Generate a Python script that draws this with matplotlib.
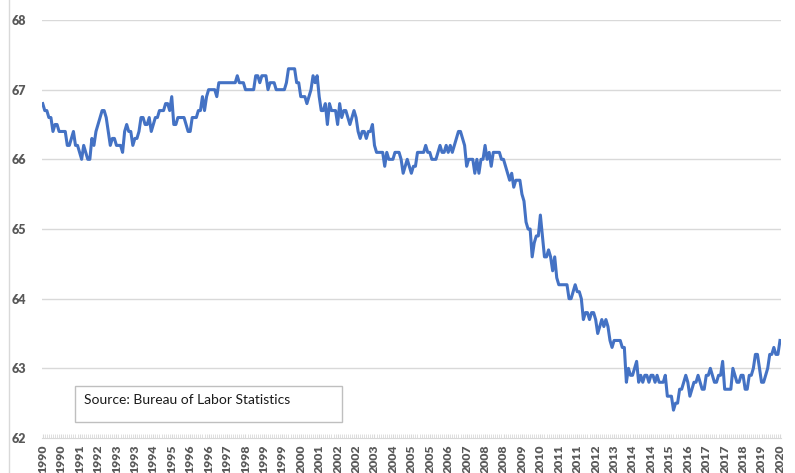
import matplotlib.pyplot as plt
from matplotlib.patches import Rectangle
from matplotlib.lines import Line2D

# Civilian labor force participation rate, monthly, Jan 1990 - Jan 2020 (%)
rate_1990s = [
    66.8, 66.7, 66.7, 66.6, 66.6, 66.4, 66.5, 66.5, 66.4, 66.4, 66.4, 66.4,  # 1990
    66.2, 66.2, 66.3, 66.4, 66.2, 66.2, 66.1, 66.0, 66.2, 66.1, 66.0, 66.0,  # 1991
    66.3, 66.2, 66.4, 66.5, 66.6, 66.7, 66.7, 66.6, 66.4, 66.2, 66.3, 66.3,  # 1992
    66.2, 66.2, 66.2, 66.1, 66.4, 66.5, 66.4, 66.4, 66.2, 66.3, 66.3, 66.4,  # 1993
    66.6, 66.6, 66.5, 66.5, 66.6, 66.4, 66.5, 66.6, 66.6, 66.7, 66.7, 66.7,  # 1994
    66.8, 66.8, 66.7, 66.9, 66.5, 66.5, 66.6, 66.6, 66.6, 66.6, 66.5, 66.4,  # 1995
    66.4, 66.6, 66.6, 66.6, 66.7, 66.7, 66.9, 66.7, 66.9, 67.0, 67.0, 67.0,  # 1996
    67.0, 66.9, 67.1, 67.1, 67.1, 67.1, 67.1, 67.1, 67.1, 67.1, 67.1, 67.2,  # 1997
    67.1, 67.1, 67.1, 67.0, 67.0, 67.0, 67.0, 67.0, 67.2, 67.2, 67.1, 67.2,  # 1998
    67.2, 67.2, 67.0, 67.1, 67.1, 67.1, 67.0, 67.0, 67.0, 67.0, 67.0, 67.1,  # 1999
]
rate_2000s = [
    67.3, 67.3, 67.3, 67.3, 67.1, 67.1, 66.9, 66.9, 66.9, 66.8, 66.9, 67.0,  # 2000
    67.2, 67.1, 67.2, 66.9, 66.7, 66.7, 66.8, 66.5, 66.8, 66.7, 66.7, 66.7,  # 2001
    66.5, 66.8, 66.6, 66.7, 66.7, 66.6, 66.5, 66.6, 66.7, 66.6, 66.4, 66.3,  # 2002
    66.4, 66.4, 66.3, 66.4, 66.4, 66.5, 66.2, 66.1, 66.1, 66.1, 66.1, 65.9,  # 2003
    66.1, 66.0, 66.0, 66.0, 66.1, 66.1, 66.1, 66.0, 65.8, 65.9, 66.0, 65.9,  # 2004
    65.8, 65.9, 65.9, 66.1, 66.1, 66.1, 66.1, 66.2, 66.1, 66.1, 66.0, 66.0,  # 2005
    66.0, 66.1, 66.2, 66.1, 66.1, 66.2, 66.1, 66.2, 66.1, 66.2, 66.3, 66.4,  # 2006
    66.4, 66.3, 66.2, 65.9, 66.0, 66.0, 66.0, 65.8, 66.0, 65.8, 66.0, 66.0,  # 2007
    66.2, 66.0, 66.1, 65.9, 66.1, 66.1, 66.1, 66.1, 66.0, 66.0, 65.9, 65.8,  # 2008
    65.7, 65.8, 65.6, 65.7, 65.7, 65.7, 65.5, 65.4, 65.1, 65.0, 65.0, 64.6,  # 2009
]
rate_2010s = [
    64.8, 64.9, 64.9, 65.2, 64.9, 64.6, 64.6, 64.7, 64.6, 64.4, 64.6, 64.3,  # 2010
    64.2, 64.2, 64.2, 64.2, 64.2, 64.0, 64.0, 64.1, 64.2, 64.1, 64.1, 64.0,  # 2011
    63.7, 63.8, 63.8, 63.7, 63.8, 63.8, 63.7, 63.5, 63.6, 63.7, 63.6, 63.7,  # 2012
    63.6, 63.4, 63.3, 63.4, 63.4, 63.4, 63.4, 63.3, 63.3, 62.8, 63.0, 62.9,  # 2013
    62.9, 63.0, 63.1, 62.8, 62.9, 62.8, 62.9, 62.9, 62.8, 62.9, 62.9, 62.8,  # 2014
    62.9, 62.8, 62.8, 62.8, 62.9, 62.6, 62.6, 62.6, 62.4, 62.5, 62.5, 62.7,  # 2015
    62.7, 62.8, 62.9, 62.8, 62.6, 62.7, 62.8, 62.8, 62.9, 62.8, 62.7, 62.7,  # 2016
    62.9, 62.9, 63.0, 62.9, 62.8, 62.8, 62.9, 62.9, 63.1, 62.7, 62.7, 62.7,  # 2017
    62.7, 63.0, 62.9, 62.8, 62.8, 62.9, 62.9, 62.7, 62.7, 62.9, 62.9, 63.0,  # 2018
    63.2, 63.2, 63.0, 62.8, 62.8, 62.9, 63.0, 63.2, 63.2, 63.3, 63.2, 63.2,  # 2019
    63.4,                                                                    # 2020
]
rate = rate_1990s + rate_2000s + rate_2010s

# category labels shown every 9th month
years = [1990 + m // 12 for m in range(len(rate))]
label_pos = list(range(0, len(rate), 9))
label_txt = [str(years[i]) for i in label_pos]

y_ticks = [62, 63, 64, 65, 66, 67, 68]

plt.rcParams['font.family'] = ['Lato', 'DejaVu Sans']

fig = plt.figure(figsize=(7.95, 4.73), dpi=100)
ax = fig.add_axes([41.7 / 795, 1 - 438 / 473, (781 - 41.7) / 795, (438 - 20) / 473])

x = list(range(len(rate)))
ax.plot(x, rate, color='#4472C4', lw=2.2, solid_joinstyle='round')

ax.set_xlim(-0.5, len(rate) - 0.5)
ax.set_ylim(62, 68)
ax.set_yticks(y_ticks)
ax.set_yticklabels([str(v) for v in y_ticks], fontsize=9, fontweight='heavy', color='#595959')
ax.set_xticks(label_pos)
ax.set_xticklabels(label_txt, rotation=90, fontsize=8.8, fontweight='heavy', color='#595959')
ax.set_xticks([i for i in range(len(rate))], minor=True)

for v in y_ticks[1:]:
    ax.axhline(v, color='#d9d9d9', lw=1, zorder=0)

for s in ['top', 'right', 'left']:
    ax.spines[s].set_visible(False)
ax.spines['bottom'].set_color('#d9d9d9')
ax.spines['bottom'].set_linewidth(0.8)
ax.tick_params(axis='y', length=0, pad=11)
ax.tick_params(axis='x', which='major', length=3, color='#d9d9d9', pad=5, direction='in')
ax.tick_params(axis='x', which='minor', length=3, color='#d9d9d9', width=0.6, direction='in')

# source box
ax.add_patch(Rectangle((75 / 795, 1 - 421.5 / 473), 267 / 795, 36 / 473,
                       transform=fig.transFigure, fill=False, ec='#bfbfbf', lw=1))
fig.text(84 / 795, 1 - 400 / 473, 'Source: Bureau of Labor Statistics',
         fontsize=10, color='#1a1a1a', va='center', ha='left')

# chart border
fig.add_artist(Line2D([8.5 / 795, 8.5 / 795], [0, 1], color='#d9d9d9', lw=1))
fig.add_artist(Line2D([796.5 / 795, 796.5 / 795], [0, 1], color='#d9d9d9', lw=1))

fig.savefig('out.png', dpi=100, facecolor='white')
